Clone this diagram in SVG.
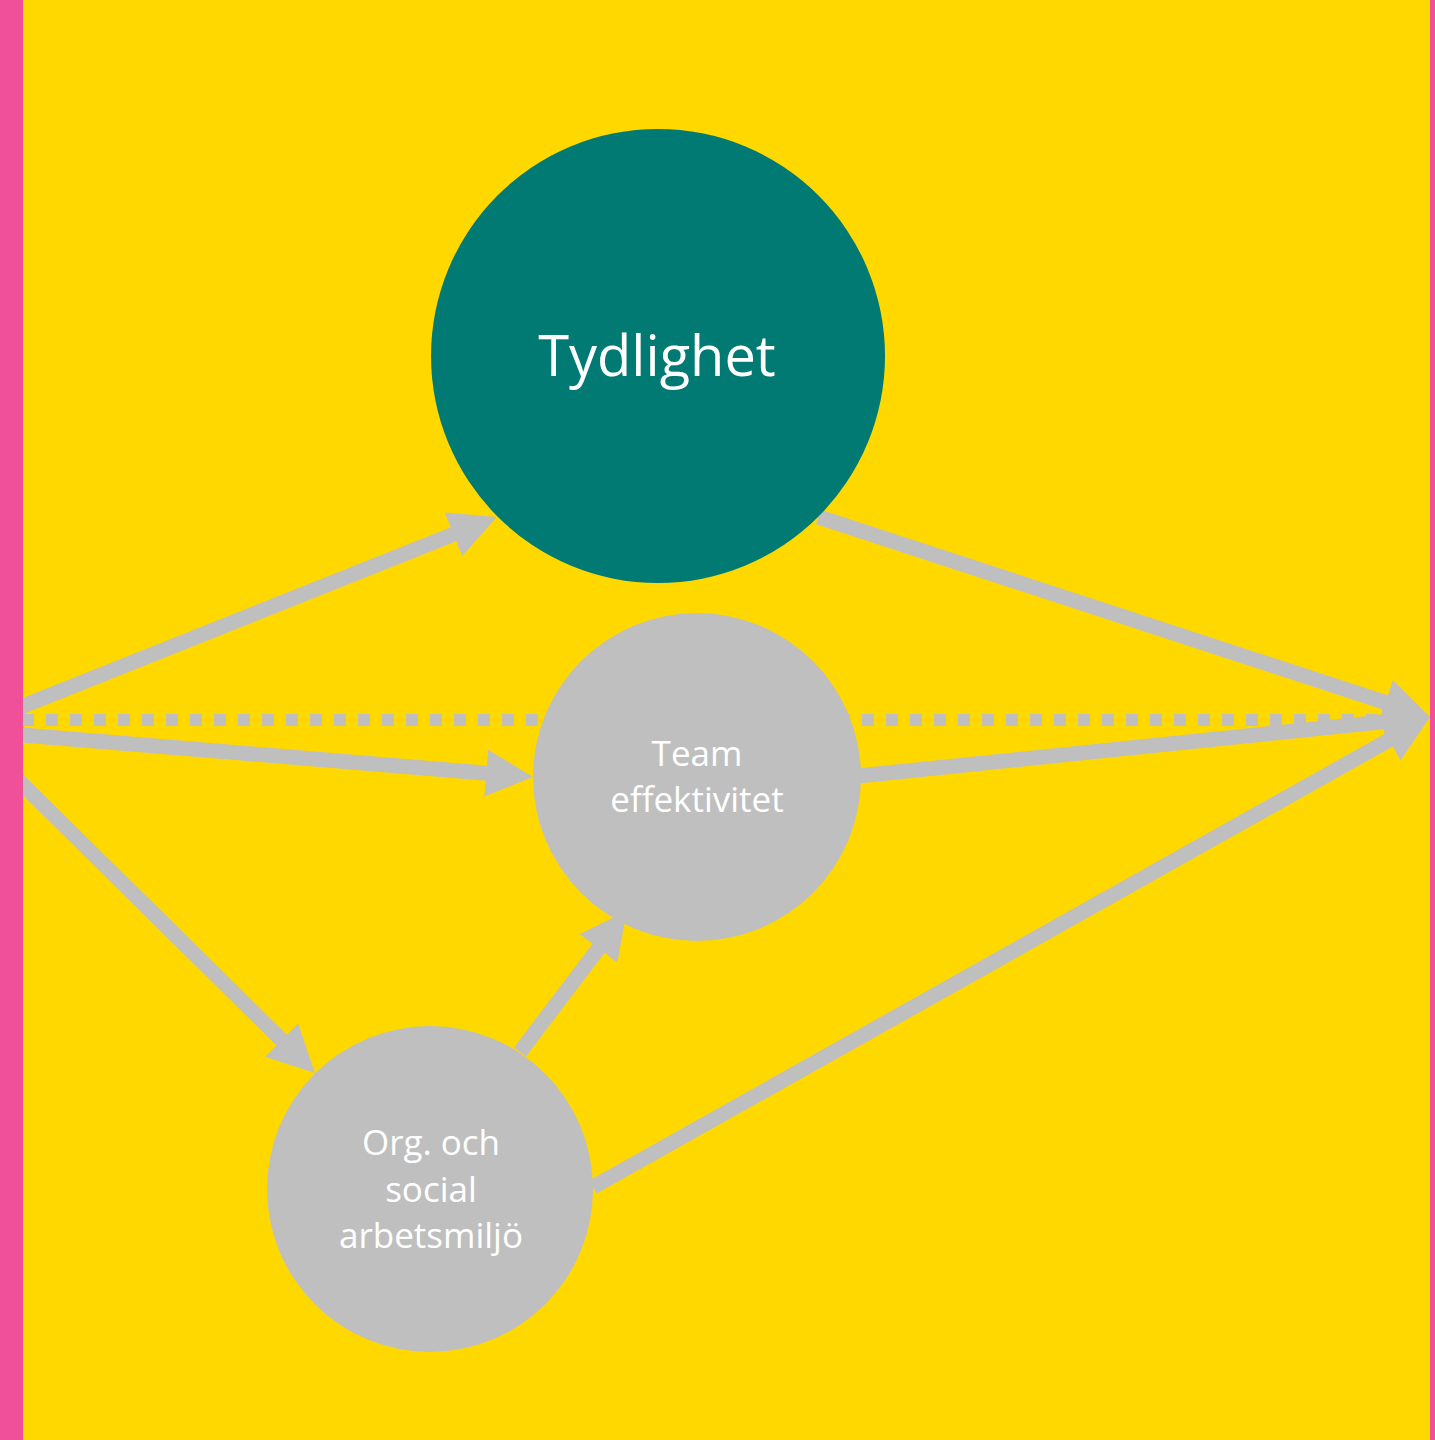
<svg xmlns="http://www.w3.org/2000/svg" width="1435" height="1440" viewBox="0 0 1435 1440">
<style>
.conn{stroke:#BFBFBF;stroke-width:15;fill:none;stroke-linecap:butt}
.dash{stroke:#BFBFBF;stroke-width:12;fill:none;stroke-dasharray:12 12}
.gnode{fill:#BFBFBF}
.lbl{font-family:"Open Sans","Liberation Sans",sans-serif;fill:#FFFFFF;text-anchor:middle}
</style>
<defs>
<marker id="ah" markerUnits="userSpaceOnUse" markerWidth="47" markerHeight="47" refX="7" refY="23.5" orient="auto" viewBox="0 0 47 47">
<path d="M0,0 L47,23.5 L0,47 Z" fill="#BFBFBF"/>
</marker>
</defs>
<rect x="0" y="0" width="1435" height="1440" fill="#FFD800"/>
<g id="connectors">
<line class="dash" x1="-2" y1="720" x2="1400" y2="720"/>
<line class="conn" x1="13.7" y1="709.7" x2="459.8" y2="531.8" marker-end="url(#ah)"/>
<line class="conn" x1="13" y1="734.2" x2="493.1" y2="773.7" marker-end="url(#ah)"/>
<line class="conn" x1="13" y1="775" x2="286.5" y2="1044.9" marker-end="url(#ah)"/>
<line class="conn" x1="520" y1="1052" x2="602.7" y2="942.8" marker-end="url(#ah)"/>
<line class="conn" x1="818.5" y1="517" x2="1392" y2="704.6" marker-end="url(#ah)"/>
<line class="conn" x1="858" y1="776" x2="1390.2" y2="721.1" marker-end="url(#ah)"/>
<line class="conn" x1="593" y1="1187" x2="1395.1" y2="736.6" marker-end="url(#ah)"/>
</g>
<g id="tydlighet">
<circle cx="658" cy="356" r="227" fill="#007A73"/>
<text class="lbl" x="657" y="376" font-size="56">Tydlighet</text>
</g>
<g id="team">
<circle class="gnode" cx="697" cy="777" r="164"/>
<text class="lbl" x="697" y="766" font-size="35">Team</text>
<text class="lbl" x="697" y="812" font-size="35">effektivitet</text>
</g>
<g id="org">
<circle class="gnode" cx="430" cy="1189" r="163"/>
<text class="lbl" x="431" y="1155" font-size="35">Org. och</text>
<text class="lbl" x="431" y="1202" font-size="35">social</text>
<text class="lbl" x="431" y="1248" font-size="35">arbetsmiljö</text>
</g>
<rect x="0" y="0" width="23" height="1440" fill="#F0509A"/>
<rect x="1430" y="0" width="5" height="1440" fill="#F0509A"/>
</svg>
